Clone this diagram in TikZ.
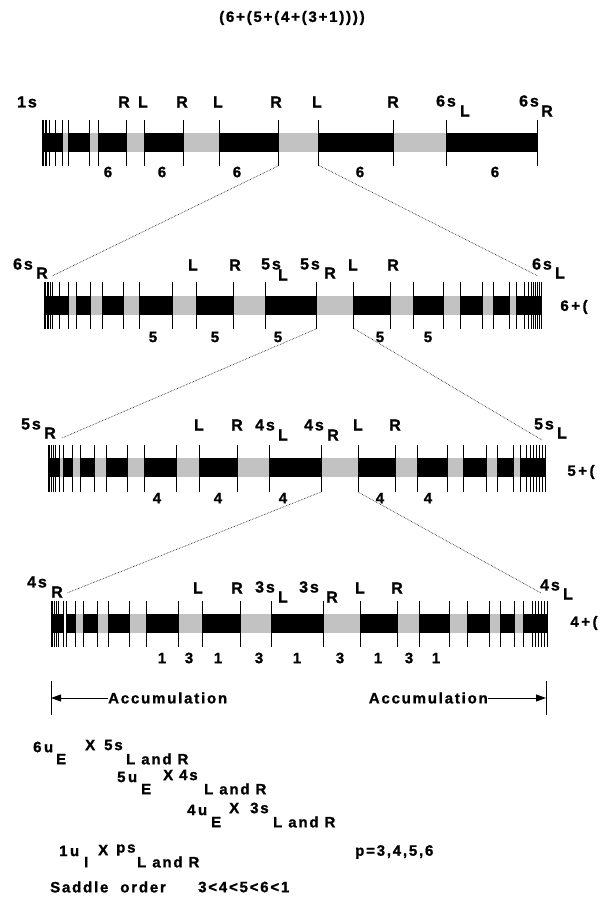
\documentclass[tikz,border=0pt]{standalone}
\usepackage{fontspec}
\setmainfont{Liberation Sans}[LetterSpace=12, BoldFeatures={FakeBold=1.2}]
\usetikzlibrary{arrows.meta}
\newcommand\labfont{\fontsize{16}{18}\selectfont\bfseries}
\newcommand\numfont{\fontsize{15}{17}\selectfont\bfseries}
\newcommand\txtfont{\fontsize{15}{17}\selectfont\bfseries}
\begin{document}
\begin{tikzpicture}[x=1pt,y=-1pt,
  stip/.style={fill=black!24},
  blk/.style={fill=black},
  tickline/.style={line width=0.9pt},
  lab/.style={font=\labfont, inner sep=0pt, anchor=center},
  num/.style={font=\numfont, inner sep=0pt, anchor=center},
  sub/.style={font=\labfont, inner sep=0pt, anchor=center},
  txt/.style={font=\txtfont, inner sep=0pt, anchor=west},
  conn/.style={densely dotted, line width=0.6pt},
  acc/.style={line width=0.9pt, -{Triangle[length=10pt,width=7pt]}}]
\useasboundingbox (0,0) rectangle (605,917);

% title
\node[num] (title) at (292,18) {(6+(5+(4+(3+1))))};

% ---------- row 1 ----------
\foreach \a/\b in {62/68, 89/98, 126/144, 183/219, 278/318, 393/446} \fill[stip] (\a,133) rectangle (\b,152);
\foreach \a/\b in {42/62, 68/89, 98/126, 144/183, 219/278, 318/393, 446/537} \fill[blk] (\a,133) rectangle (\b,152);
\foreach \x in {42,43.5,45,46.5,49,55,62,68,89,98,126,144,183,219,278,318,393,446,537}
  \draw[tickline] (\x,120) -- (\x,166);
\coordinate (r1R) at (278,166);
\coordinate (r1L) at (318,165);

\node[lab] (a1) at (27,102) {1s};
\foreach \x/\t [count=\i] in {124/R,143/L,182/R,218/L,276/R,317/L,393/R}
  \node[lab] (a1t\i) at (\x,102) {\t};
\node[lab] (a16sL) at (446,101) {6s};
\node[sub] (a16sLs) at (465,111) {L};
\node[lab] (a16sR) at (529,101) {6s};
\node[sub] (a16sRs) at (547,111) {R};
\foreach \x [count=\i] in {108,162,237,360,495}
  \node[num] (a1n\i) at (\x,172) {6};

% ---------- row 2 ----------
\foreach \a/\b in {68/76, 90/102, 123/139, 172/196, 233/265, 316/353, 390/413, 443/460, 482/493, 509/516} \fill[stip] (\a,296) rectangle (\b,315);
\foreach \a/\b in {44/59, 59/68, 76/90, 102/123, 139/172, 196/233, 265/316, 353/390, 413/443, 460/482, 493/509, 516/541} \fill[blk] (\a,296) rectangle (\b,315);
\foreach \x in {44,45.5,47,48.5,50.5,52,59,68,76,90,102,123,139,172,196,233,265,316,353,390,413,443,460,482,493,509,516,524,528,531,533,535,537,539,541}
  \draw[tickline] (\x,282) -- (\x,329);
\coordinate (r2l) at (52,276);
\coordinate (r2r) at (538,276);
\coordinate (r2R) at (316,329);
\coordinate (r2L) at (353,328);

\node[lab] (a2a) at (23,264) {6s};
\node[sub] (a2as) at (42,273) {R};
\node[lab] (a2L1) at (193,265) {L};
\node[lab] (a2R1) at (235,265) {R};
\node[lab] (a2b) at (271,264) {5s};
\node[sub] (a2bs) at (283,275) {L};
\node[lab] (a2c) at (310,264) {5s};
\node[sub] (a2cs) at (330,273) {R};
\node[lab] (a2L2) at (353,265) {L};
\node[lab] (a2R2) at (393,265) {R};
\node[lab] (a2d) at (542,264) {6s};
\node[sub] (a2ds) at (560,273) {L};
\node[num] (a2e) at (574,307) {6\,+\,(};
\foreach \x [count=\i] in {153,215,278,380,428}
  \node[num] (a2n\i) at (\x,337) {5};

% ---------- row 3 ----------
\foreach \a/\b in {59/63, 72/80, 94/106, 127/144, 176/199, 237/269, 321/358, 395/417, 447/463, 486/497, 513/520} \fill[stip] (\a,458) rectangle (\b,477);
\foreach \a/\b in {48/59, 63/72, 80/94, 106/127, 144/176, 199/237, 269/321, 358/395, 417/447, 463/486, 497/513, 520/545} \fill[blk] (\a,458) rectangle (\b,477);
\foreach \x in {48,49.5,51,53,55,59,63,72,80,94,106,127,144,176,199,237,269,321,358,395,417,447,463,486,497,513,520,526,530,533,536,539,542,545}
  \draw[tickline] (\x,445) -- (\x,492);
\coordinate (r3l) at (62,438);
\coordinate (r3r) at (542,440);
\coordinate (r3R) at (321,492);
\coordinate (r3L) at (358,492);

\node[lab] (a3a) at (31,424) {5s};
\node[sub] (a3as) at (50,433) {R};
\node[lab] (a3L1) at (199,425) {L};
\node[lab] (a3R1) at (237,425) {R};
\node[lab] (a3b) at (265,425) {4s};
\node[sub] (a3bs) at (283,435) {L};
\node[lab] (a3c) at (314,425) {4s};
\node[sub] (a3cs) at (333,435) {R};
\node[lab] (a3L2) at (358,425) {L};
\node[lab] (a3R2) at (395,425) {R};
\node[lab] (a3d) at (544,424) {5s};
\node[sub] (a3ds) at (562,433) {L};
\node[num] (a3e) at (581,472) {5\,+\,(};
\foreach \x [count=\i] in {157,218,283,380,428}
  \node[num] (a3n\i) at (\x,498) {4};

% ---------- row 4 ----------
\foreach \a/\b in {75/83, 97/108, 129/146, 178/202, 240/271, 323/360, 397/419, 449/467, 489/500, 514/523} \fill[stip] (\a,614) rectangle (\b,633);
\foreach \a/\b in {51/63, 66/75, 83/97, 108/129, 146/178, 202/240, 271/323, 360/397, 419/449, 467/489, 500/514, 523/547} \fill[blk] (\a,614) rectangle (\b,633);
\foreach \x in {51,52.5,54,56,58,63,66,75,83,97,108,129,146,178,202,240,271,323,360,397,419,449,467,489,500,514,523,532,535,538,541,544,547}
  \draw[tickline] (\x,601) -- (\x,647);
\coordinate (r4l) at (67,593);
\coordinate (r4r) at (541,593);

\node[lab] (a4a) at (37,582) {4s};
\node[sub] (a4as) at (57,592) {R};
\node[lab] (a4L1) at (198,588) {L};
\node[lab] (a4R1) at (237,588) {R};
\node[lab] (a4b) at (265,587) {3s};
\node[sub] (a4bs) at (283,597) {L};
\node[lab] (a4c) at (309,587) {3s};
\node[sub] (a4cs) at (332,597) {R};
\node[lab] (a4L2) at (360,588) {L};
\node[lab] (a4R2) at (397,588) {R};
\node[lab] (a4d) at (550,585) {4s};
\node[sub] (a4ds) at (568,594) {L};
\node[num] (a4e) at (584,623) {4\,+\,(};
\foreach \x/\t [count=\i] in {162/1,189/3,218/1,259/3,297/1,340/3,378/1,409/3,436/1}
  \node[num] (a4n\i) at (\x,658) {\t};

% dotted connectors
\draw[conn] (r1R) -- (r2l);
\draw[conn] (r1L) -- (r2r);
\draw[conn] (r2R) -- (r3l);
\draw[conn] (r2L) -- (r3r);
\draw[conn] (r3R) -- (r4l);
\draw[conn] (r3L) -- (r4r);

% accumulation
\coordinate (accLb) at (51,698);
\coordinate (accRb) at (546,698);
\draw[tickline] (51,681) -- (51,715);
\draw[tickline] (546,681) -- (546,715);
\node[txt] (accL) at (108,698) {Accumulation};
\node[txt, anchor=east] (accR) at (488,698) {Accumulation};
\draw[acc] (accL.west) -- (accLb);
\draw[acc] (accR.east) -- (accRb);

% bottom formulas
\node[txt] (f1a) at (33,747) {6\,u};
\node[txt] (f1b) at (56,759) {E};
\node[txt] (f1c) at (85,745) {X};
\node[txt] (f1d) at (104,745) {5s};
\node[txt] (f1e) at (126,759) {L and R};

\node[txt] (f2a) at (117,777) {5\,u};
\node[txt] (f2b) at (141,789) {E};
\node[txt] (f2c) at (163,775) {X};
\node[txt] (f2d) at (179,775) {4s};
\node[txt] (f2e) at (204,789) {L and R};

\node[txt] (f3a) at (187,810) {4\,u};
\node[txt] (f3b) at (211,822) {E};
\node[txt] (f3c) at (229,808) {X};
\node[txt] (f3d) at (250,808) {3s};
\node[txt] (f3e) at (273,822) {L and R};

\node[txt] (f4a) at (59,851) {1\,u};
\node[txt] (f4b) at (84,862) {I};
\node[txt] (f4c) at (98,850) {X};
\node[txt] (f4d) at (116,850) {ps};
\node[txt] (f4e) at (137,862) {L and R};
\node[txt] (f4f) at (355,852) {p=3,4,5,6};

\node[txt] (s1) at (50,887) {Saddle\ \ order};
\node[txt] (s2) at (198,887) {3<4<5<6<1};
\end{tikzpicture}
\end{document}
